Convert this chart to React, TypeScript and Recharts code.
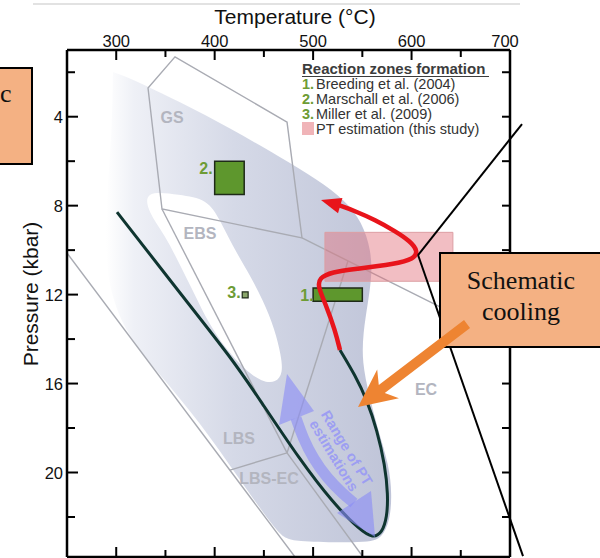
import React from "react";
import { ComposedChart, Line, XAxis, YAxis, Scatter, ReferenceLine } from "recharts";

const FONT = "'Liberation Sans', Arial, sans-serif";
const SERIF = "'Liberation Serif', 'Times New Roman', serif";

const T_DOMAIN = [250, 700];
const P_DOMAIN = [1, 23.8];
const T_TICKS = [300, 350, 400, 450, 500, 550, 600, 650, 700];
const T_LABELS = [300, 400, 500, 600, 700];
const P_TICKS = [2, 4, 6, 8, 10, 12, 14, 16, 18, 20, 22];
const P_LABELS = [4, 8, 12, 16, 20];

type Pt = [number, number]; // [T °C, P kbar]

// shaded PT band and the white gap inside it
const BAND: Pt[] = [
  [296.7, 1.99], [296.7, 1.99], [296.7, 1.99], [314.0, 2.26], [364.8, 3.34], [415.6, 4.51],
  [466.4, 5.81], [505.0, 6.85], [532.4, 7.75], [549.7, 8.73], [558.8, 9.99], [559.8, 11.12],
  [555.8, 12.33], [550.7, 13.73], [549.7, 15.03], [556.8, 16.51], [565.9, 18.09], [577.1, 19.66],
  [580.1, 21.01], [578.1, 22.14], [570.0, 22.95], [555.8, 23.17], [476.5, 23.13], [465.4, 22.81],
  [425.7, 20.34], [385.1, 17.73], [344.5, 15.62], [306.9, 13.59], [291.6, 11.48], [288.6, 9.54],
  [291.6, 6.85], [295.7, 4.6],
];
const HOLE: Pt[] = [
  [328.3, 7.3], [364.8, 7.52], [392.2, 7.7], [405.4, 8.64], [417.6, 9.77], [433.9, 10.98],
  [449.1, 12.24], [461.3, 13.59], [467.4, 14.72], [469.4, 15.53], [462.3, 15.97], [448.1, 15.93],
  [430.8, 15.39], [410.5, 14.4], [393.2, 13.23], [380.0, 12.02], [364.8, 10.67], [349.5, 9.32],
  [332.3, 8.29],
];

// metamorphic facies boundaries
const GS_POLY: Pt[] = [[473.5, 4.24], [359.7, 1.31], [332.3, 2.71], [346.5, 8.15], [488.7, 9.45]];
const FACIES_LINES: Pt[][] = [
  [[488.7, 9.45], [659.4, 13.23]],
  [[346.5, 8.15], [473.5, 19.12]],
  [[535.4, 10.49], [473.5, 19.12]],
  [[473.5, 19.12], [415.6, 19.89]],
  [[473.5, 19.12], [550.7, 23.8]],
  [[250, 10.13], [481.6, 23.8]],
];

// reaction lines (beyond the frame on the right)
const BLACK_UP: Pt[] = [[606.6, 10.22], [712.2, 4.33]];
const BLACK_DOWN: Pt[] = [[606.6, 10.22], [713.2, 23.76]];

// PT path
const DARK_PATH: Pt[] = [
  [300.8, 8.29], [364.8, 11.93], [418.6, 14.94], [446.0, 16.74], [486.7, 19.44], [520.2, 21.37],
  [547.6, 22.59], [560.8, 22.95], [570.0, 22.72], [575.1, 22.0], [576.1, 21.01], [573.0, 19.66],
  [564.9, 18.09], [554.7, 16.74], [542.6, 15.62], [527.3, 14.49],
];
const RED_PATH: Pt[] = [
  [527.3, 14.49], [522.2, 13.59], [513.1, 12.47], [505.0, 11.66], [506.0, 11.25], [519.2, 10.98],
  [542.6, 10.85], [583.2, 10.62], [602.5, 10.4], [606.6, 10.04], [598.4, 9.59], [583.2, 9.14],
  [562.9, 8.64], [542.6, 8.24], [525.3, 7.97],
];
const RED_HEAD: Pt[] = [[508.0, 7.75], [529.8, 7.65], [525.3, 8.34]];

// "range of PT estimations" double arrow
const LAV_SHAFT: Pt[] = [[482.6, 17.55], [489.7, 18.45], [499.9, 19.35], [514.1, 20.25], [530.4, 20.97], [541.5, 21.37]];
const LAV_HEAD_TOP: Pt[] = [[473.5, 15.57], [465.4, 17.86], [500.9, 17.23]];
const LAV_HEAD_BOTTOM: Pt[] = [[524.3, 21.82], [558.8, 20.83], [562.9, 22.9]];

// boxes
const PINK_BOX: Pt[] = [[512, 9.2], [642, 9.2], [642, 11.4], [512, 11.4]];
const ZONE_1: Pt[] = [[500, 11.7], [550, 11.7], [550, 12.3], [500, 12.3]];
const ZONE_2: Pt[] = [[400, 6], [430, 6], [430, 7.5], [400, 7.5]];
const ZONE_3: Pt[] = [[428, 11.88], [434, 11.88], [434, 12.15], [428, 12.15]];

const ORANGE_ARROW: Pt[] = [
  [659.4, 13.5], [572.8, 16.42], [587.2, 16.66], [545.6, 17.05], [565.1, 15.37], [566.7, 16.06], [653.3, 13.14],
];

const LABELS = [
  { t: 356.7, p: 4.01, text: "GS", kind: "zone" },
  { t: 385.1, p: 9.23, text: "EBS", kind: "zone" },
  { t: 424.7, p: 18.45, text: "LBS", kind: "zone" },
  { t: 455.2, p: 20.25, text: "LBS-EC", kind: "zone" },
  { t: 614.7, p: 16.25, text: "EC", kind: "zone" },
  { t: 391.2, p: 6.31, text: "2.", kind: "num" },
  { t: 419.6, p: 11.88, text: "3.", kind: "num" },
  { t: 493.8, p: 12.02, text: "1.", kind: "num" },
  { t: 527.3, p: 19.08, text: "Range of PT|estimations", kind: "range" },
];

const LEGEND_TITLE = "Reaction zones formation";
const LEGEND_ITEMS = ["Breeding et al. (2004)", "Marschall et al. (2006)", "Miller et al. (2009)"];
const LEGEND_PINK = "PT estimation (this study)";

const pts = (a: Pt[]) => a.map(([t, p]) => ({ t, p }));

const css = `
.f-band path { fill: url(#bandGrad); }
.f-hole path { fill: #ffffff; }
.f-pink path { fill: #e36f79; fill-opacity: 0.45; }
.f-green path { fill: #5e972d; }
.f-green3 path { fill: #8aa66a; }
.f-lav path { fill: #8b8cf6; fill-opacity: 0.62; }
.f-red path { fill: #e8141b; }
.f-orange path { fill: #ee8432; }
`;

const AXIS = { stroke: "#000", strokeWidth: 2.5 };

function TopTick({ x, y, payload }: any) {
  const major = T_LABELS.includes(payload.value);
  return (
    <g>
      <line x1={x} x2={x} y1={y} y2={y + (major ? 10 : 7)} stroke="#000" strokeWidth={2} />
      {major && (
        <text x={payload.value === 700 ? x - 5 : x} y={y - 3} textAnchor="middle" fontSize={16.5} fontFamily={FONT} fill="#111">
          {payload.value}
        </text>
      )}
    </g>
  );
}

function BottomTick({ x, y, payload }: any) {
  const major = T_LABELS.includes(payload.value);
  return <line x1={x} x2={x} y1={y} y2={y - (major ? 10 : 7)} stroke="#000" strokeWidth={2} />;
}

function LeftTick({ x, y, payload }: any) {
  const major = P_LABELS.includes(payload.value);
  return (
    <g>
      <line x1={x} x2={x + (major ? 11 : 8)} y1={y} y2={y} stroke="#000" strokeWidth={2} />
      {major && (
        <text x={x - 4} y={y + 6} textAnchor="end" fontSize={16.5} fontFamily={FONT} fill="#111">
          {payload.value}
        </text>
      )}
    </g>
  );
}

function RightTick({ x, y }: any) {
  return <line x1={x} x2={x - 8} y1={y} y2={y} stroke="#000" strokeWidth={2} />;
}

function LabelShape({ cx, cy, payload }: any) {
  if (payload.kind === "range") {
    const [a, b] = payload.text.split("|");
    return (
      <text transform={`translate(${cx},${cy}) rotate(58.7)`} textAnchor="middle" fontSize={14.5}
        fontWeight="bold" fontFamily={FONT} fill="#9d9ef2">
        <tspan x={0} y={-3}>{a}</tspan>
        <tspan x={0} y={12}>{b}</tspan>
      </text>
    );
  }
  return (
    <text x={cx} y={cy} dy={6} textAnchor="middle" fontSize={16} fontWeight="bold" fontFamily={FONT}
      fill={payload.kind === "num" ? "#6e9c35" : "#b3b5bf"}>
      {payload.text}
    </text>
  );
}

const lineBase = {
  xAxisId: "t",
  yAxisId: "l",
  dataKey: "p",
  dot: false,
  activeDot: false,
  isAnimationActive: false,
} as const;

export default function App() {
  return (
    <div style={{ position: "absolute", left: 0, top: 0, width: 600, height: 558, overflow: "hidden", background: "#fff", fontFamily: FONT }}>
      <style>{css}</style>
      <svg width={0} height={0} style={{ position: "absolute" }}>
        <defs>
          <linearGradient id="bandGrad" x1="0" y1="0" x2="1" y2="0">
            <stop offset="0" stopColor="#ffffff" />
            <stop offset="0.1" stopColor="#eef0f6" />
            <stop offset="0.45" stopColor="#d5d9e7" />
            <stop offset="1" stopColor="#bfc4d8" />
          </linearGradient>
        </defs>
      </svg>

      <div style={{ position: "absolute", left: 0, top: 0 }}>
        <ComposedChart width={600} height={558} margin={{ top: 0, right: 89, bottom: 0, left: 0 }}>
          <XAxis xAxisId="t" orientation="top" dataKey="t" type="number" domain={T_DOMAIN} ticks={T_TICKS}
            interval={0} height={50} allowDataOverflow axisLine={AXIS} tickLine={false} tickSize={0}
            tickMargin={0} tick={TopTick} />
          <XAxis xAxisId="b" orientation="bottom" dataKey="t" type="number" domain={T_DOMAIN} ticks={T_TICKS}
            interval={0} height={1} allowDataOverflow axisLine={AXIS} tickLine={false} tickSize={0}
            tickMargin={0} tick={BottomTick} />
          <YAxis yAxisId="l" orientation="left" dataKey="p" type="number" domain={P_DOMAIN} ticks={P_TICKS}
            interval={0} width={67} reversed allowDataOverflow axisLine={AXIS} tickLine={false} tickSize={0}
            tickMargin={0} tick={LeftTick} />
          <YAxis yAxisId="r" orientation="right" dataKey="p" type="number" domain={P_DOMAIN} ticks={P_TICKS}
            interval={0} width={1} reversed allowDataOverflow axisLine={AXIS} tickLine={false} tickSize={0}
            tickMargin={0} tick={RightTick} />

          <Line {...lineBase} data={pts(BAND)} type="basisClosed" stroke="none" className="f-band" />
          <Line {...lineBase} data={pts(HOLE)} type="basisClosed" stroke="none" className="f-hole" />

          <Line {...lineBase} data={pts(GS_POLY)} type="linearClosed" stroke="#a9abb3" strokeWidth={1.4} />
          {FACIES_LINES.map((seg, i) => (
            <Line key={i} {...lineBase} data={pts(seg)} type="linear" stroke="#a9abb3" strokeWidth={1.4} />
          ))}

          <Line {...lineBase} data={pts(PINK_BOX)} type="linearClosed" stroke="#dc9ea3" strokeWidth={1} className="f-pink" />
          <Line {...lineBase} data={pts(ZONE_2)} type="linearClosed" stroke="#1e2a18" strokeWidth={1.5} className="f-green" />
          <Line {...lineBase} data={pts(ZONE_1)} type="linearClosed" stroke="#1e2a18" strokeWidth={1.5} className="f-green" />
          <Line {...lineBase} data={pts(ZONE_3)} type="linearClosed" stroke="#1e2a18" strokeWidth={1.2} className="f-green3" />

          <Line {...lineBase} data={pts(DARK_PATH)} type="basis" stroke="#0f3530" strokeWidth={3} />

          <Line {...lineBase} data={pts(LAV_SHAFT)} type="basis" stroke="#8b8cf6" strokeOpacity={0.62} strokeWidth={11} />
          <Line {...lineBase} data={pts(LAV_HEAD_TOP)} type="linearClosed" stroke="none" className="f-lav" />
          <Line {...lineBase} data={pts(LAV_HEAD_BOTTOM)} type="linearClosed" stroke="none" className="f-lav" />

          <Line {...lineBase} data={pts(RED_PATH)} type="basis" stroke="#e8141b" strokeWidth={4.5} />
          <Line {...lineBase} data={pts(RED_HEAD)} type="linearClosed" stroke="none" className="f-red" />

          <ReferenceLine xAxisId="t" yAxisId="l" ifOverflow="visible" stroke="#000" strokeWidth={2}
            segment={BLACK_UP.map(([t, p]) => ({ x: t, y: p }))} />
          <ReferenceLine xAxisId="t" yAxisId="l" ifOverflow="visible" stroke="#000" strokeWidth={2}
            segment={BLACK_DOWN.map(([t, p]) => ({ x: t, y: p }))} />

          <Scatter xAxisId="t" yAxisId="l" dataKey="p" data={LABELS} shape={LabelShape} isAnimationActive={false} />
        </ComposedChart>
      </div>

      <svg width={600} height={558} style={{ position: "absolute", left: 0, top: 0 }}>
        <line x1={33} y1={4} x2={520} y2={4} stroke="#e2e2e2" strokeWidth={2} />
        <text x={295} y={24} textAnchor="middle" fontSize={21} fontFamily={FONT} fill="#111">
          Temperature (°C)
        </text>
        <text transform="translate(38,294) rotate(-90)" textAnchor="middle" fontSize={21} fontFamily={FONT} fill="#111">
          Pressure (kbar)
        </text>

        <text x={302} y={74} fontSize={15} fontWeight="bold" fontFamily={FONT} fill="#3c3c3c">
          {LEGEND_TITLE}
        </text>
        <line x1={302} x2={489} y1={76.5} y2={76.5} stroke="#3c3c3c" strokeWidth={1.2} />
        {LEGEND_ITEMS.map((s, i) => (
          <text key={s} y={88.5 + i * 15.3} fontSize={14.5} fontFamily={FONT} fill="#333">
            <tspan x={302} fill="#6e9c35" fontWeight="bold">{i + 1 + "."}</tspan>
            <tspan x={316}>{s}</tspan>
          </text>
        ))}
        <rect x={302} y={122} width={12} height={13} fill="#f0b4b8" />
        <text x={316} y={134.3} fontSize={14.5} fontFamily={FONT} fill="#333">{LEGEND_PINK}</text>

        <rect x={-3} y={68} width={35} height={96} fill="#f4b183" stroke="#000" strokeWidth={2} />
        <text x={0} y={102} fontSize={26} fontFamily={SERIF} fill="#111">c</text>

        <rect x={440} y={253} width={172} height={94} fill="#f4b183" stroke="#000" strokeWidth={2} />
        <text x={521} y={289} textAnchor="middle" fontSize={26} fontFamily={SERIF} fill="#111">Schematic</text>
        <text x={521} y={320} textAnchor="middle" fontSize={26} fontFamily={SERIF} fill="#111">cooling</text>
      </svg>

      <div style={{ position: "absolute", left: 0, top: 0 }}>
        <ComposedChart width={600} height={558} margin={{ top: 50, right: 90, bottom: 1, left: 67 }}>
          <XAxis xAxisId="t" dataKey="t" type="number" domain={T_DOMAIN} hide allowDataOverflow />
          <YAxis yAxisId="l" dataKey="p" type="number" domain={P_DOMAIN} reversed hide allowDataOverflow />
          <Line {...lineBase} data={pts(ORANGE_ARROW)} type="linearClosed" stroke="none" className="f-orange" />
        </ComposedChart>
      </div>
    </div>
  );
}
